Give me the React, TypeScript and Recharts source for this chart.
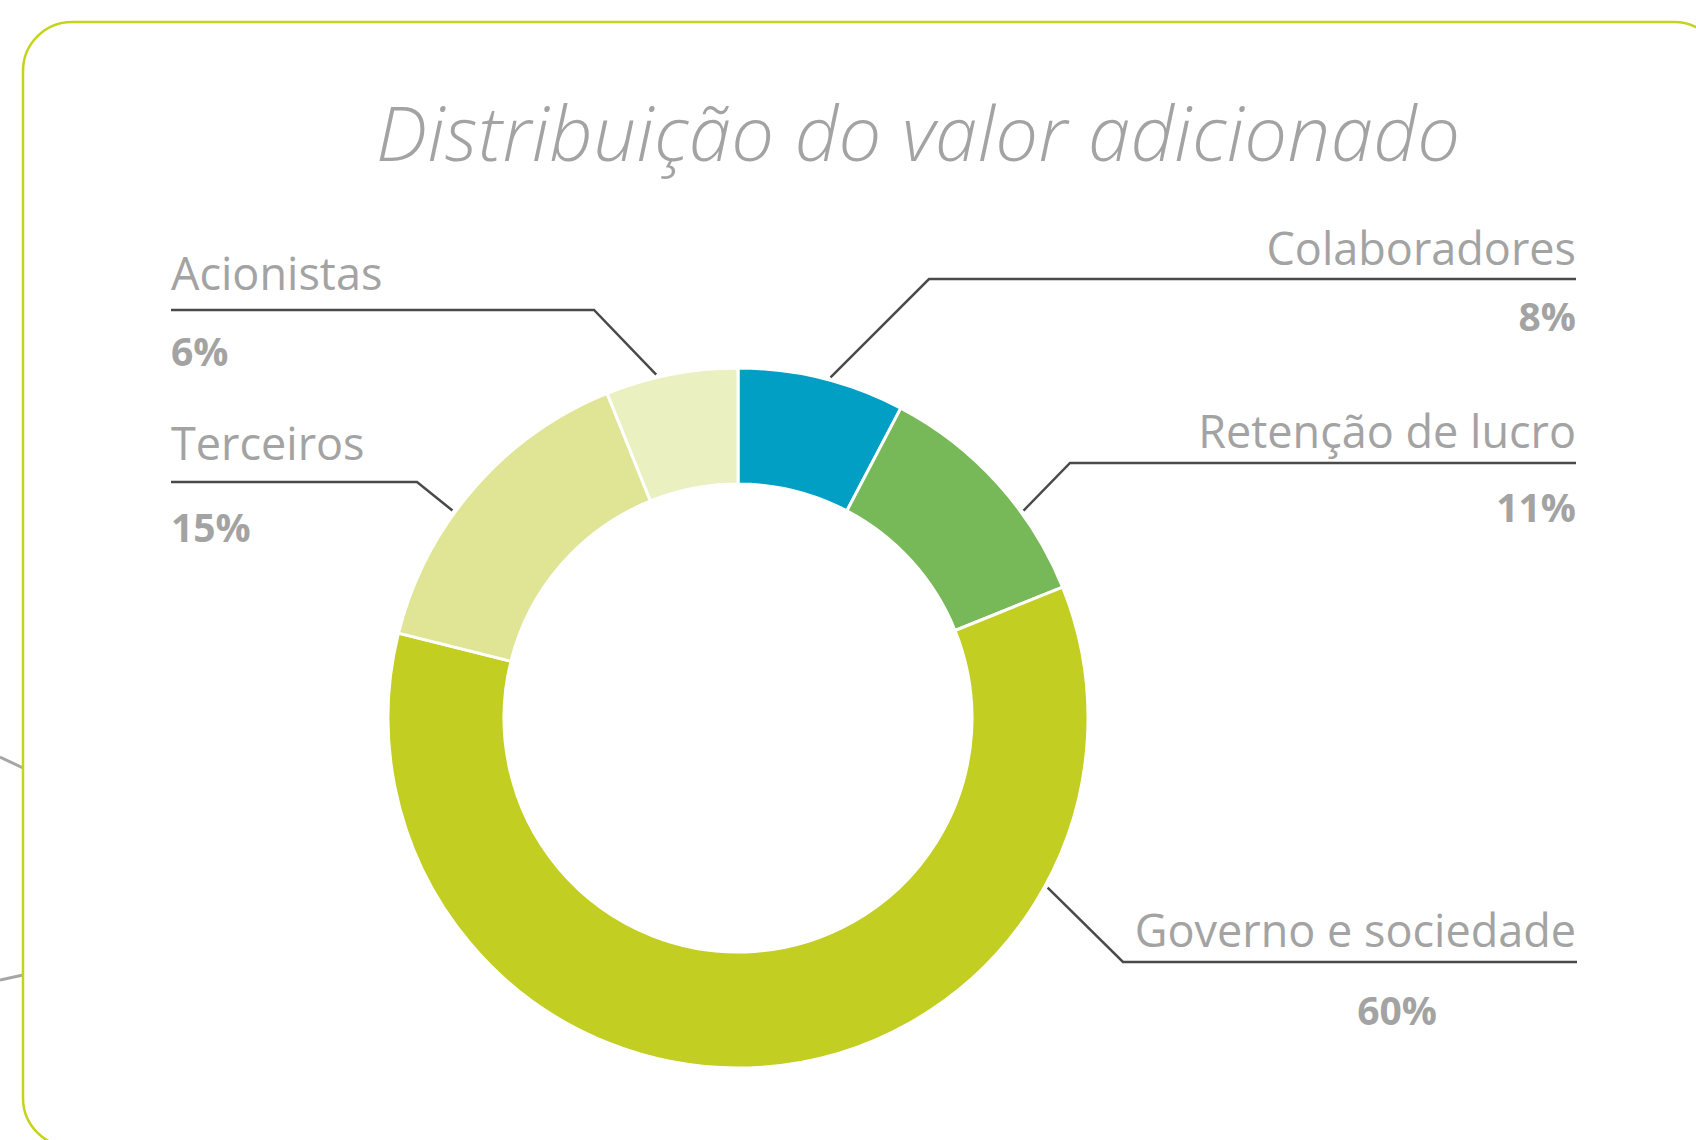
import React from 'react';
import { PieChart, Pie, Cell } from 'recharts';

const categories = ['Colaboradores', 'Retenção de lucro', 'Governo e sociedade', 'Terceiros', 'Acionistas'];
const values = [7.7, 11.2, 60.0, 15.0, 6.1];
const percentLabels = ['8%', '11%', '60%', '15%', '6%'];
const colors = ['#009fc3', '#77b858', '#c2ce22', '#e0e596', '#ebf0c1'];

const title = 'Distribuição do valor adicionado';

// label layout (leader-line angle on clock face, elbow, line end, text positions)
const LAYOUT = [
  { angle: 15.2, elbow: [929, 279], endX: 1576, nameX: 1576, nameY: 265, pctX: 1576, pctY: 331, nameAnchor: 'end', pctAnchor: 'end' },
  { angle: 54, elbow: [1070, 463], endX: 1576, nameX: 1576, nameY: 448, pctX: 1576, pctY: 522, nameAnchor: 'end', pctAnchor: 'end' },
  { angle: 118.7, elbow: [1123, 962], endX: 1577, nameX: 1576, nameY: 947, pctX: 1397, pctY: 1025, nameAnchor: 'end', pctAnchor: 'middle' },
  { angle: 306, elbow: [417, 482], endX: 171, nameX: 171, nameY: 460, pctX: 171, pctY: 542, nameAnchor: 'start', pctAnchor: 'start' },
  { angle: 346.6, elbow: [594, 310], endX: 171, nameX: 171, nameY: 290, pctX: 171, pctY: 366, nameAnchor: 'start', pctAnchor: 'start' },
];

const data = categories.map((name, i) => ({ name, value: values[i], pct: percentLabels[i] }));

const FONT = '"Open Sans", "Noto Sans", sans-serif';

const renderLabel = (props: any) => {
  const { cx, cy, outerRadius, index } = props;
  const l = LAYOUT[index];
  const rad = (l.angle * Math.PI) / 180;
  const r = outerRadius + 3;
  const sx = cx + r * Math.sin(rad);
  const sy = cy - r * Math.cos(rad);
  return (
    <g key={`lbl-${index}`}>
      <polyline
        points={`${sx},${sy} ${l.elbow[0]},${l.elbow[1]} ${l.endX},${l.elbow[1]}`}
        fill="none"
        stroke="#4a4a4a"
        strokeWidth={2.5}
      />
      <text x={l.nameX} y={l.nameY} textAnchor={l.nameAnchor} fontFamily={FONT} fontSize={45} fill="#a3a3a3">
        {data[index].name}
      </text>
      <text x={l.pctX} y={l.pctY} textAnchor={l.pctAnchor} fontFamily={FONT} fontSize={39} fontWeight={700} fill="#a3a3a3">
        {data[index].pct}
      </text>
    </g>
  );
};

export default function App() {
  return (
    <div style={{ position: 'absolute', left: 0, top: 0, width: 1696, height: 1140, background: '#ffffff', overflow: 'hidden' }}>
      <svg width={1696} height={1140} style={{ position: 'absolute', left: 0, top: 0 }}>
        <line x1={0} y1={757} x2={23} y2={768} stroke="#a6a6a6" strokeWidth={3} />
        <line x1={0} y1={980} x2={23} y2={975} stroke="#a6a6a6" strokeWidth={3} />
        <rect x={23} y={22} width={1700} height={1125} rx={49} ry={49} fill="none" stroke="#c5d21e" strokeWidth={2.5} />
        <text
          x={376}
          y={161}
          textAnchor="start"
          textLength={1084}
          lengthAdjust="spacing"
          fontFamily={FONT}
          fontStyle="italic"
          fontWeight={300}
          fontSize={76}
          fill="#a3a3a3"
        >
          {title}
        </text>
      </svg>
      <div style={{ position: 'absolute', left: 0, top: 0 }}>
        <PieChart width={1696} height={1140} margin={{ top: 0, right: 0, bottom: 0, left: 0 }}>
          <Pie
            data={data}
            dataKey="value"
            nameKey="name"
            cx={738}
            cy={718}
            innerRadius={234}
            outerRadius={350}
            startAngle={90}
            endAngle={-270}
            stroke="#ffffff"
            strokeWidth={3}
            label={renderLabel}
            labelLine={false}
            isAnimationActive={false}
          >
            {data.map((d, i) => (
              <Cell key={d.name} fill={colors[i]} />
            ))}
          </Pie>
        </PieChart>
      </div>
    </div>
  );
}
